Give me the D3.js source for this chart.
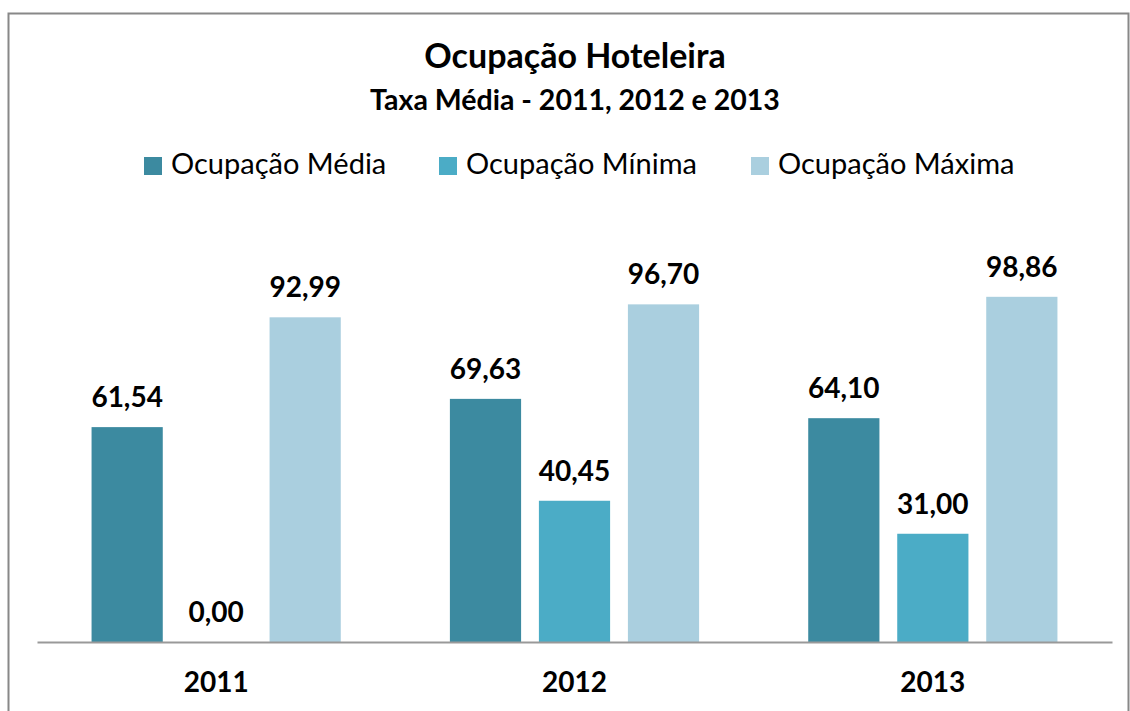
<!DOCTYPE html>
<html>
<head>
<meta charset="utf-8">
<script src="https://cdn.jsdelivr.net/npm/d3@7"></script>
<style>
  body { margin: 0; background: #fff; }
  text { font-family: Lato, "Open Sans", sans-serif; fill: #000; }
</style>
</head>
<body>
<svg id="chart" width="1130" height="711"></svg>
<script>
// chart data
const years = ["2011", "2012", "2013"];
const series = ["Ocupação Média", "Ocupação Mínima", "Ocupação Máxima"];
const media = [61.54, 69.63, 64.10];
const minima = [0.00, 40.45, 31.00];
const maxima = [92.99, 96.70, 98.86];
const colors = ["#3c8aa0", "#4bacc6", "#aacfdf"];

const values = [media, minima, maxima];
const rows = years.map((y, i) => ({ year: y, vals: values.map(v => v[i]) }));

const svg = d3.select("#chart");

// outer frame
svg.append("path")
  .attr("d", "M8.5,711 V13.5 H1128.5 V711")
  .attr("fill", "none")
  .attr("stroke", "#888")
  .attr("stroke-width", 2);

// titles
svg.append("text")
  .attr("x", 575).attr("y", 68)
  .attr("text-anchor", "middle")
  .style("font-weight", "bold").style("font-size", "34px")
  .text("Ocupação Hoteleira");
svg.append("text")
  .attr("x", 575).attr("y", 110)
  .attr("text-anchor", "middle")
  .style("font-weight", "bold").style("font-size", "28.5px")
  .text("Taxa Média - 2011, 2012 e 2013");

// scales
const x0 = d3.scaleBand()
  .domain(years)
  .range([37, 1112])
  .padding(0);

const x1 = d3.scaleBand()
  .domain(series)
  .range([0, x0.bandwidth()])
  .paddingInner(0.2)
  .paddingOuter(0.613);

const y = d3.scaleLinear()
  .domain([0, 120])
  .range([642, 223]);

// bars
const groups = svg.selectAll("g.year")
  .data(rows)
  .enter()
  .append("g")
  .attr("class", "year")
  .attr("transform", d => "translate(" + x0(d.year) + ",0)");

groups.selectAll("rect")
  .data(d => d.vals.map((v, i) => ({ key: series[i], v: v, i: i })))
  .enter()
  .append("rect")
  .attr("x", d => x1(d.key))
  .attr("y", d => y(d.v))
  .attr("width", x1.bandwidth())
  .attr("height", d => y(0) - y(d.v))
  .attr("fill", d => colors[d.i]);

groups.selectAll("text.lbl")
  .data(d => d.vals.map((v, i) => ({ key: series[i], v: v })))
  .enter()
  .append("text")
  .attr("class", "lbl")
  .attr("x", d => x1(d.key) + x1.bandwidth() / 2)
  .attr("y", d => y(d.v) - 20)
  .attr("text-anchor", "middle")
  .style("font-weight", "bold").style("font-size", "28px")
  .text(d => d3.format(".2f")(d.v).replace(".", ","));

// x axis
const xAxis = svg.append("g")
  .attr("transform", "translate(0," + y(0) + ")")
  .call(d3.axisBottom(x0).tickSize(0).tickPadding(30));
xAxis.select(".domain").attr("stroke", "#999").attr("stroke-width", 2);
xAxis.selectAll("text")
  .style("font-family", "Lato, sans-serif")
  .style("font-weight", "bold").style("font-size", "28px")
  .attr("fill", "#000");

// legend
const legendX = [144, 439, 751];
const legend = svg.selectAll("g.leg")
  .data(series)
  .enter()
  .append("g")
  .attr("class", "leg")
  .attr("transform", (d, i) => "translate(" + legendX[i] + ",157)");
legend.append("rect")
  .attr("width", 18).attr("height", 18)
  .attr("fill", (d, i) => colors[i]);
legend.append("text")
  .attr("x", 27).attr("y", 17)
  .style("font-size", "29px")
  .text(d => d);
</script>
</body>
</html>
